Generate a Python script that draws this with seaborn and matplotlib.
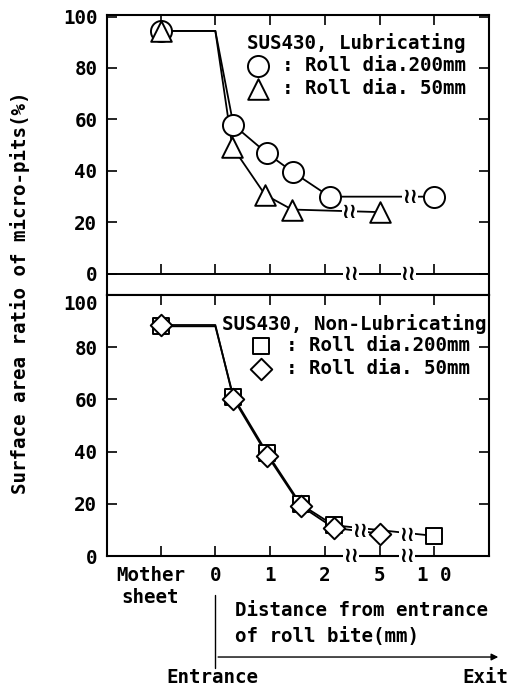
import matplotlib
matplotlib.use("Agg")
import matplotlib.pyplot as plt
from matplotlib.transforms import ScaledTranslation
import seaborn as sns

sns.set_style("ticks")
plt.rcParams["font.family"] = ["DejaVu Sans Mono", "DejaVu Sans"]
plt.rcParams["font.weight"] = "bold"
for key in ("text.color", "axes.labelcolor", "xtick.color", "ytick.color", "axes.edgecolor"):
    plt.rcParams[key] = "black"
FS = 13.8

# x axis is broken after 2 mm: positions -1 = mother sheet, 0..2 mm linear, 3 = 5 mm, 4 = 10 mm
tick_pos = [-1, 0, 1, 2, 3, 4]
tick_labels = ["Mother\nsheet", "0", "1", "2", "5", "1 0"]
y_ticks = [0, 20, 40, 60, 80, 100]

# upper panel: lubricating
lub200_x = [-1, 0.33, 0.94, 1.42, 2.09, 4]
lub200_y = [94.4, 57.9, 46.9, 39.5, 30.0, 30.0]
lub50_x = [-1, 0.31, 0.91, 1.40, 3]
lub50_y = [94.4, 49.4, 30.7, 25.0, 24.0]

# lower panel: non-lubricating
nonlub200_x = [-1, 0.33, 0.95, 1.56, 2.16, 4]
nonlub200_y = [88.0, 61.0, 39.3, 19.8, 11.8, 7.7]
nonlub50_x = [-1, 0.33, 0.95, 1.56, 2.16, 3]
nonlub50_y = [88.5, 60.3, 38.5, 19.2, 10.8, 8.6]

# where the break marks sit
lub_breaks = [(2.45, 24.0), (3.55, 30.0), (2.48, 0), (3.53, 0)]
nonlub_breaks = [(2.64, 9.7), (3.5, 8.1), (2.48, 0), (3.5, 0)]


def path(xs, ys):
    # line stays at mother-sheet level up to the entrance (x=0)
    return [xs[0], 0] + xs[1:], [ys[0], ys[0]] + ys[1:]


def draw_series(ax, xs, ys, marker, size):
    px, py = path(xs, ys)
    sns.lineplot(x=px, y=py, sort=False, estimator=None, color="black", lw=1.3, ax=ax, zorder=2)
    sns.scatterplot(x=xs, y=ys, marker=marker, s=size, color="white", edgecolor="black",
                    linewidth=1.4, ax=ax, legend=False, zorder=3)
    return ax.collections[-1]


def add_breaks(ax, breaks):
    for bx, by in breaks:
        ax.text(bx, by, "\u2240\u2240", ha="center", va="center", fontsize=15, fontweight="bold",
                family="DejaVu Sans", zorder=6, clip_on=False,
                bbox=dict(boxstyle="square,pad=0.0", fc="white", ec="none"))


def style_axes(ax):
    ax.set_xlim(-1.98, 5.0)
    ax.set_xticks(tick_pos)
    ax.set_yticks(y_ticks)
    ax.set_xlabel("")
    ax.set_ylabel("")
    for sp in ax.spines.values():
        sp.set_visible(True)
        sp.set_linewidth(1.5)
        sp.set_color("black")
    ax.tick_params(direction="in", length=7, width=1.2, top=True, right=True, labelsize=FS)
    ax.tick_params(axis="y", pad=7)


fig = plt.figure(figsize=(5.07, 6.9), dpi=100)
ax1 = fig.add_axes([0.211, 0.5725, 0.7535, 0.4058])
ax2 = fig.add_axes([0.211, 0.1942, 0.7535, 0.3783])

# upper panel
h_c = draw_series(ax1, lub200_x, lub200_y, "o", 230)
h_t = draw_series(ax1, lub50_x, lub50_y, "^", 220)
style_axes(ax1)
ax1.set_ylim(-8.2, 100.6)
ax1.tick_params(axis="x", bottom=False, labelbottom=False)
ax1.axhline(0, color="black", lw=1.4, zorder=2)
ax1.plot(tick_pos, [0] * len(tick_pos), ls="none", marker=2, ms=7, mew=1.2, color="black", zorder=2)
add_breaks(ax1, lub_breaks)
ax1.text(0.366, 0.90, "SUS430, Lubricating", transform=ax1.transAxes, fontsize=FS,
         ha="left", va="center")
ax1.legend(handles=[h_c, h_t], labels=[": Roll dia.200mm", ": Roll dia. 50mm"],
           loc="upper left", bbox_to_anchor=(0.364, 0.852), frameon=False, borderpad=0,
           borderaxespad=0, handlelength=1.2, handletextpad=0.7, labelspacing=0.2,
           prop={"size": FS, "weight": "bold"})

# lower panel
h_s = draw_series(ax2, nonlub200_x, nonlub200_y, "s", 130)
h_d = draw_series(ax2, nonlub50_x, nonlub50_y, "D", 120)
style_axes(ax2)
ax2.set_ylim(0, 100)
ax2.set_xticklabels(tick_labels)
ax2.tick_params(axis="x", pad=7)
for lab in ax2.get_yticklabels():
    if lab.get_text() == "100":
        lab.set_va("top")
mother = ax2.get_xticklabels()[0]
mother.set_transform(mother.get_transform() + ScaledTranslation(-0.10, 0, fig.dpi_scale_trans))
add_breaks(ax2, nonlub_breaks)
ax2.text(0.301, 0.889, "SUS430, Non-Lubricating", transform=ax2.transAxes, fontsize=FS,
         ha="left", va="center")
ax2.legend(handles=[h_s, h_d], labels=[": Roll dia.200mm", ": Roll dia. 50mm"],
           loc="upper left", bbox_to_anchor=(0.374, 0.841), frameon=False, borderpad=0,
           borderaxespad=0, handlelength=1.2, handletextpad=0.7, labelspacing=0.2,
           prop={"size": FS, "weight": "bold"})

# entrance / exit annotation under the x axis
tr = ax2.get_xaxis_transform()
ax2.plot([0, 0], [-0.149, -0.429], transform=tr, color="black", lw=1.0, clip_on=False)
ax2.annotate("", xy=(5.22, -0.387), xytext=(0, -0.387), xycoords=tr, textcoords=tr,
             arrowprops=dict(arrowstyle="-|>", lw=1.0, color="black", mutation_scale=10),
             annotation_clip=False)
ax2.text(0.35, -0.207, "Distance from entrance", transform=tr, fontsize=FS, ha="left", va="center")
ax2.text(0.35, -0.310, "of roll bite(mm)", transform=tr, fontsize=FS, ha="left", va="center")
ax2.text(-0.05, -0.464, "Entrance", transform=tr, fontsize=FS, ha="center", va="center")
ax2.text(5.35, -0.464, "Exit", transform=tr, fontsize=FS, ha="right", va="center")

fig.text(20 / 507, 1 - 293 / 690, "Surface area ratio of micro-pits(%)", rotation=90,
         ha="center", va="center", fontsize=FS)

fig.savefig("out.png", dpi=100, facecolor="white")
